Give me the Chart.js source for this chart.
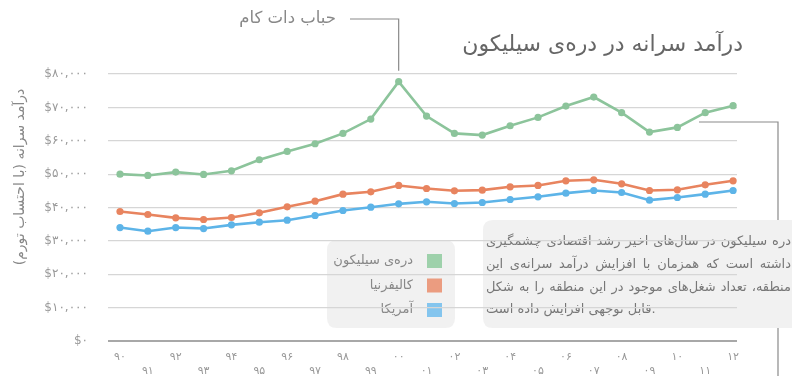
<!DOCTYPE html>
<html lang="fa">
<head>
<meta charset="utf-8">
<title>درآمد سرانه در دره‌ی سیلیکون</title>
<script src="https://cdn.jsdelivr.net/npm/chart.js@4.4.1/dist/chart.umd.min.js"></script>
<style>
  html, body { margin: 0; padding: 0; background: #fff; }
  canvas { display: block; }
</style>
</head>
<body>
<canvas id="incomeChart" width="792" height="376"></canvas>
<script>
var years = [1990, 1991, 1992, 1993, 1994, 1995, 1996, 1997, 1998, 1999, 2000, 2001,
             2002, 2003, 2004, 2005, 2006, 2007, 2008, 2009, 2010, 2011, 2012];
var yearLabels = ['۹۰', '۹۱', '۹۲', '۹۳', '۹۴', '۹۵', '۹۶', '۹۷', '۹۸', '۹۹', '۰۰', '۰۱',
                  '۰۲', '۰۳', '۰۴', '۰۵', '۰۶', '۰۷', '۰۸', '۰۹', '۱۰', '۱۱', '۱۲'];

var siliconValley = [50000, 49600, 50600, 49900, 51000, 54300, 56800, 59100, 62200, 66500, 77700, 67400,
                     62200, 61700, 64500, 67000, 70400, 73100, 68400, 62600, 64000, 68400, 70500];
var california = [38800, 37900, 36900, 36400, 37000, 38400, 40200, 41900, 44000, 44700, 46600, 45700,
                  45000, 45200, 46200, 46600, 48000, 48300, 47100, 45100, 45300, 46800, 48000];
var usa = [34000, 32900, 34000, 33700, 34800, 35600, 36200, 37600, 39100, 40100, 41100, 41700,
           41200, 41500, 42400, 43200, 44300, 45100, 44500, 42200, 43000, 44000, 45100];

var seriesNames = ['دره‌ی سیلیکون', 'کالیفرنیا', 'آمریکا'];
var yTickLabels = ['$۰', '$۱۰,۰۰۰', '$۲۰,۰۰۰', '$۳۰,۰۰۰', '$۴۰,۰۰۰',
                   '$۵۰,۰۰۰', '$۶۰,۰۰۰', '$۷۰,۰۰۰', '$۸۰,۰۰۰'];

var chartTitle = 'درآمد سرانه در دره‌ی سیلیکون';
var yAxisTitle = 'درآمد سرانه (با احتساب تورم)';
var peakNote = 'حباب دات کام';
var noteLines = [
  'دره سیلیکون در سال‌های اخیر رشد اقتصادی چشمگیری',
  'داشته است که همزمان با افزایش درآمد سرانه‌ی این',
  'منطقه، تعداد شغل‌های موجود در این منطقه را به شکل',
  'قابل توجهی افزایش داده است.'
];

var lineColors = ['#8cc49b', '#e8845f', '#5db4e8'];
var swatchColors = ['#9ed1ab', '#eb9c80', '#84c5ee'];
var FONT = '"DejaVu Sans", sans-serif';

function toPoints(values) {
  return values.map(function (v, i) { return { x: years[i], y: v }; });
}

function roundRect(ctx, x, y, w, h, r) {
  ctx.beginPath();
  ctx.moveTo(x + r, y);
  ctx.lineTo(x + w - r, y);
  ctx.quadraticCurveTo(x + w, y, x + w, y + r);
  ctx.lineTo(x + w, y + h - r);
  ctx.quadraticCurveTo(x + w, y + h, x + w - r, y + h);
  ctx.lineTo(x + r, y + h);
  ctx.quadraticCurveTo(x, y + h, x, y + h - r);
  ctx.lineTo(x, y + r);
  ctx.quadraticCurveTo(x, y, x + r, y);
  ctx.closePath();
}

// justified paragraph, last line left as is
function drawParagraph(ctx, lines, left, right, top, lineHeight) {
  var width = right - left;
  lines.forEach(function (line, i) {
    ctx.wordSpacing = '0px';
    if (i < lines.length - 1) {
      var gaps = line.split(' ').length - 1;
      var extra = (width - ctx.measureText(line).width) / gaps;
      ctx.wordSpacing = Math.max(0, extra) + 'px';
    }
    ctx.fillText(line, left, top + i * lineHeight);
  });
  ctx.wordSpacing = '0px';
}

// panels, legend and callouts sit under the grid; titles go on top
var decorations = {
  id: 'decorations',
  beforeDraw: function (chart) {
    var ctx = chart.ctx;
    ctx.save();
    ctx.fillStyle = '#fff';
    ctx.fillRect(0, 0, chart.width, chart.height);

    // callout to the note panel
    ctx.strokeStyle = '#8a8a8a';
    ctx.lineWidth = 1.2;
    ctx.beginPath();
    ctx.moveTo(699, 122);
    ctx.lineTo(778, 122);
    ctx.lineTo(778, 376);
    ctx.stroke();

    // note panel
    roundRect(ctx, 483, 220, 340, 108, 10);
    ctx.fillStyle = '#f1f1f1';
    ctx.fill();
    ctx.fillStyle = '#777';
    ctx.font = '13px ' + FONT;
    ctx.textAlign = 'left';
    ctx.textBaseline = 'middle';
    drawParagraph(ctx, noteLines, 486, 791, 242, 22.7);

    // legend panel
    roundRect(ctx, 327, 240, 128, 88, 10);
    ctx.fillStyle = '#f1f1f1';
    ctx.fill();
    ctx.direction = 'rtl';
    ctx.textAlign = 'right';
    ctx.font = '13px ' + FONT;
    chart.data.datasets.forEach(function (ds, i) {
      var cy = 261 + i * 24.5;
      ctx.fillStyle = swatchColors[i];
      ctx.fillRect(427, cy - 7, 15, 14);
      ctx.fillStyle = '#888';
      ctx.fillText(ds.label, 413, cy);
    });
    ctx.restore();
  },
  afterDraw: function (chart) {
    var ctx = chart.ctx;
    var xs = chart.scales.x, ys = chart.scales.y;
    ctx.save();
    ctx.direction = 'rtl';
    ctx.textBaseline = 'middle';

    // title
    ctx.fillStyle = '#666';
    ctx.font = '22px ' + FONT;
    ctx.textAlign = 'right';
    ctx.fillText(chartTitle, 743, 45);

    // dot-com peak callout
    var peakIdx = siliconValley.indexOf(Math.max.apply(null, siliconValley));
    var px = xs.getPixelForValue(years[peakIdx]);
    var py = ys.getPixelForValue(siliconValley[peakIdx]);
    ctx.strokeStyle = '#8a8a8a';
    ctx.lineWidth = 1.2;
    ctx.beginPath();
    ctx.moveTo(350, 19);
    ctx.lineTo(px, 19);
    ctx.lineTo(px, py - 11);
    ctx.stroke();
    ctx.fillStyle = '#888';
    ctx.font = '16.5px ' + FONT;
    ctx.fillText(peakNote, 336, 19);

    // y axis title
    ctx.translate(20, 177);
    ctx.rotate(-Math.PI / 2);
    ctx.textAlign = 'center';
    ctx.font = '14px ' + FONT;
    ctx.fillStyle = '#888';
    ctx.fillText(yAxisTitle, 0, 0);
    ctx.restore();
  }
};

var ctx = document.getElementById('incomeChart').getContext('2d');

var incomeChart = new Chart(ctx, {
  type: 'line',
  data: {
    datasets: [siliconValley, california, usa].map(function (values, i) {
      return {
        label: seriesNames[i],
        data: toPoints(values),
        borderColor: lineColors[i],
        backgroundColor: lineColors[i],
        borderWidth: 2.6,
        pointRadius: 3.6,
        pointBorderWidth: 0,
        pointBackgroundColor: lineColors[i],
        tension: 0
      };
    })
  },
  options: {
    responsive: false,
    animation: false,
    layout: { padding: { top: 74, right: 55, left: 0, bottom: 0 } },
    plugins: {
      legend: { display: false },
      title: { display: false },
      tooltip: { enabled: false }
    },
    scales: {
      x: {
        type: 'linear',
        min: 1989.57,
        max: 2012.14,
        afterFit: function (scale) { scale.height = 35; },
        grid: { display: false, drawTicks: false },
        border: { display: false },
        ticks: {
          stepSize: 1,
          includeBounds: false,
          autoSkip: false,
          maxRotation: 0,
          padding: 10,
          color: '#999',
          font: { family: FONT, size: 11 },
          callback: function (value) {
            var i = Math.round(value) - years[0];
            var label = yearLabels[i];
            if (label === undefined) return '';
            return i % 2 === 0 ? [label, ''] : ['', label];
          }
        }
      },
      y: {
        min: 0,
        max: 80000,
        afterFit: function (scale) { scale.width = 108; },
        grid: {
          drawTicks: false,
          color: function (c) { return c.tick && c.tick.value === 0 ? '#a8a8a8' : '#d6d6d6'; },
          lineWidth: function (c) { return c.tick && c.tick.value === 0 ? 2 : 1.2; }
        },
        border: { display: false },
        ticks: {
          stepSize: 10000,
          padding: 20,
          color: '#999',
          font: { family: FONT, size: 12 },
          callback: function (value) { return yTickLabels[Math.round(value / 10000)]; }
        }
      }
    }
  },
  plugins: [decorations]
});
</script>
</body>
</html>
